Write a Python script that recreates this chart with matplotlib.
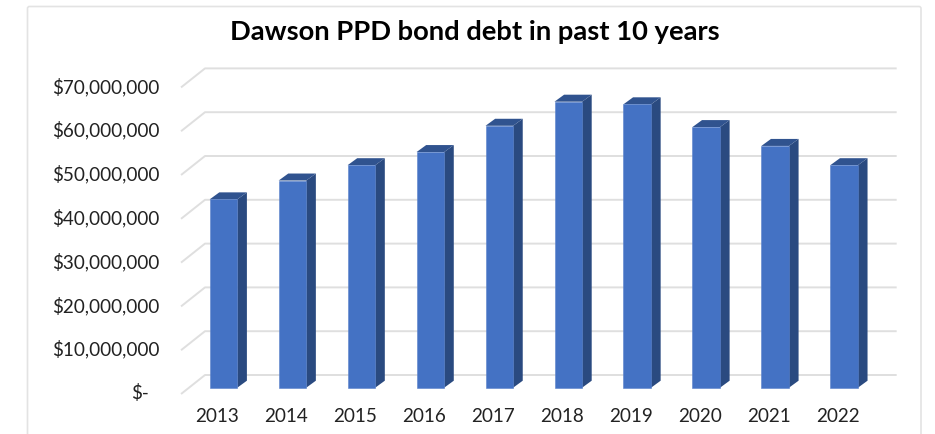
import matplotlib
matplotlib.use("Agg")
import matplotlib.pyplot as plt
from matplotlib.patches import Polygon, FancyBboxPatch

# -- Data ----------------------------------------------------------------------
years = ["2013", "2014", "2015", "2016", "2017", "2018", "2019", "2020", "2021", "2022"]
debt = [43.0e6, 47.3e6, 50.8e6, 53.8e6, 59.8e6, 65.3e6, 64.7e6, 59.5e6, 55.2e6, 50.8e6]
ticks = [0, 10e6, 20e6, 30e6, 40e6, 50e6, 60e6, 70e6]
tick_labels = ["$-", "$10,000,000", "$20,000,000", "$30,000,000",
               "$40,000,000", "$50,000,000", "$60,000,000", "$70,000,000"]

# -- Layout, in pixels of the 935x434 picture ----------------------------------
W, H = 935, 434
FLOOR_Y = 387.7     # baseline of the bar fronts
UNIT_PX = 43.8      # height of 10M
FIRST_X = 223.5     # centre of first bar
STEP_X = 68.96
BAR_W = 27.6
DEPTH_X, DEPTH_Y = 9.6, 7.0    # bar depth
WALL_X, WALL_DY = 205.0, 12.7  # back wall, rise above the bar front plane
TICK_X, TICK_DY = 181.8, 5.7   # front end of the side wall diagonals
GRID_END = 895.7

BLUE = "#4472c4"
SIDE = "#2a4a80"
TOP = "#30538f"
EDGE = "#5a82cb"
GRID = "#dfdfdf"
TEXT = "#222222"

fig = plt.figure(figsize=(W / 100, H / 100), dpi=100)
ax = fig.add_axes([0, 0, 1, 1])
ax.set_xlim(0, W)
ax.set_ylim(H, 0)
ax.axis("off")

def ypos(v):
    return FLOOR_Y - v / 10e6 * UNIT_PX

# chart frame, runs off the bottom of the picture
ax.add_patch(FancyBboxPatch((27.5, 6.5), 893.5, 460, boxstyle="round,pad=0,rounding_size=2",
                            fc="white", ec="#e3e3e3", lw=1.2))

# gridlines with the diagonal on the side wall
for v, lab in zip(ticks, tick_labels):
    y = ypos(v)
    ax.plot([TICK_X, WALL_X, GRID_END], [y + TICK_DY, y - WALL_DY, y - WALL_DY],
            color=GRID, lw=1.4, solid_joinstyle="round", zorder=1)
    ax.text(159 if lab != "$-" else 149, y + 5.5, lab, ha="right", va="center",
            fontsize=13.6, family="Lato", color=TEXT)

# bars: front, side and top faces
for i, (yr, v) in enumerate(zip(years, debt)):
    xc = FIRST_X + i * STEP_X
    l, r = xc - BAR_W / 2, xc + BAR_W / 2
    t = ypos(v)
    ax.add_patch(Polygon([(r, FLOOR_Y), (r + DEPTH_X, FLOOR_Y - DEPTH_Y),
                          (r + DEPTH_X, t - DEPTH_Y), (r, t)], fc=SIDE, ec="none", zorder=3))
    ax.add_patch(Polygon([(l, t), (l + DEPTH_X, t - DEPTH_Y),
                          (r + DEPTH_X, t - DEPTH_Y), (r, t)], fc=TOP, ec="none", zorder=3))
    ax.add_patch(Polygon([(l, FLOOR_Y), (l, t), (r, t), (r, FLOOR_Y)],
                         fc=BLUE, ec=EDGE, lw=0.4, zorder=4))
    ax.text(xc - 6.3, 417, yr, ha="center", va="center", fontsize=13.6,
            family="Lato", color=TEXT)

ax.text(474.5, 32.5, "Dawson PPD bond debt in past 10 years", ha="center", va="center",
        fontsize=19.75, fontweight="bold", family="Lato", color="black")

fig.savefig("out.png", dpi=100, facecolor="white")
